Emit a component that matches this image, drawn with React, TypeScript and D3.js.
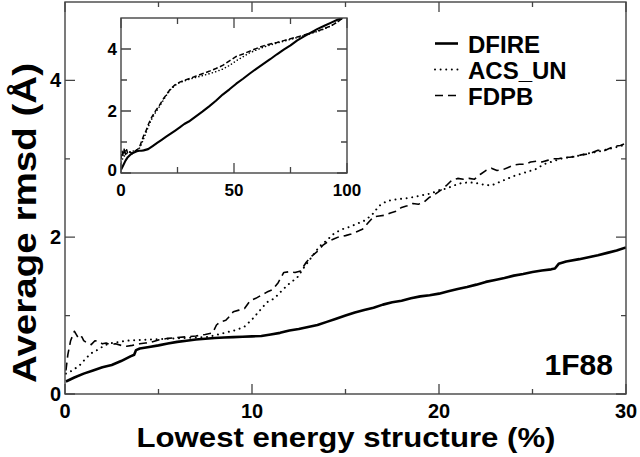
import React from "react";
import * as d3 from "d3";

// ---------- Main plot data ----------
const dfireX = [0.05,0.5,1,1.5,2,2.5,3,3.5,3.7,3.8,4,4.5,5,5.5,6,6.5,7,7.5,8,8.5,9,9.5,10,10.5,11,11.5,12,12.5,13,13.5,14,14.5,15,15.5,16,16.5,17,17.5,18,18.5,19,19.5,20,20.5,21,21.5,22,22.5,23,23.5,24,24.5,25,25.5,26,26.2,26.4,26.8,27.5,28,28.5,29,29.5,30];
const dfireY = [0.16,0.21,0.26,0.30,0.34,0.37,0.42,0.48,0.50,0.56,0.58,0.60,0.62,0.645,0.665,0.68,0.695,0.705,0.715,0.72,0.725,0.73,0.735,0.74,0.76,0.78,0.81,0.83,0.855,0.88,0.92,0.96,1.0,1.04,1.07,1.1,1.14,1.17,1.19,1.22,1.245,1.26,1.28,1.31,1.34,1.365,1.395,1.43,1.455,1.48,1.51,1.53,1.555,1.575,1.59,1.60,1.66,1.69,1.72,1.745,1.77,1.80,1.83,1.87];

const acsX = [0.05,0.4,0.8,1.1,1.4,1.8,2.1,2.4,2.8,3.3,4.0,5.0,6.0,7.0,7.7,8.2,8.7,9.2,9.6,10.0,10.4,10.8,11.2,11.6,12.0,12.4,12.8,13.2,13.6,14.0,14.4,14.8,15.2,15.6,16.0,16.4,16.8,17.2,17.6,18.0,18.4,18.8,19.2,19.6,20.0,20.4,20.8,21.2,21.6,22.0,22.4,22.8,23.2,23.6,24.0,24.4,24.8,25.2,25.6,26.0,26.5,27.0,27.5,28.0,28.5,29.0,29.5,30.0];
const acsY = [0.26,0.30,0.37,0.45,0.52,0.57,0.62,0.645,0.66,0.68,0.69,0.70,0.71,0.72,0.73,0.76,0.79,0.82,0.86,0.95,1.06,1.17,1.22,1.32,1.41,1.48,1.62,1.75,1.88,1.96,2.05,2.10,2.13,2.17,2.21,2.28,2.40,2.46,2.48,2.49,2.50,2.52,2.54,2.56,2.60,2.62,2.66,2.69,2.70,2.69,2.67,2.66,2.70,2.74,2.78,2.81,2.84,2.87,2.93,2.96,3.00,3.02,3.04,3.07,3.09,3.12,3.15,3.18];

const fdpbX = [0.05,0.15,0.3,0.5,0.6,0.7,0.8,0.9,1.0,1.2,1.4,1.6,1.8,2.0,2.2,2.4,2.7,3.0,3.3,3.6,4.0,4.3,4.6,5.0,5.5,6.0,6.5,7.0,7.5,7.9,8.1,8.3,8.6,8.8,9.0,9.3,9.6,9.9,10.2,10.5,10.8,11.1,11.4,11.7,12.0,12.3,12.6,12.9,13.2,13.5,13.8,14.1,14.4,14.7,15.0,15.3,15.6,15.9,16.2,16.5,16.8,17.1,17.4,17.7,18.0,18.3,18.6,18.9,19.2,19.5,19.8,20.1,20.4,20.7,21.0,21.3,21.6,21.9,22.2,22.5,22.8,23.1,23.4,23.7,24.0,24.3,24.6,24.9,25.2,25.5,25.8,26.1,26.4,26.7,27.0,27.3,27.6,27.9,28.2,28.5,28.8,29.1,29.4,29.7,30.0];
const fdpbY = [0.30,0.50,0.68,0.80,0.76,0.72,0.70,0.73,0.68,0.65,0.63,0.68,0.67,0.64,0.65,0.63,0.64,0.62,0.61,0.62,0.64,0.65,0.66,0.69,0.71,0.72,0.73,0.74,0.76,0.78,0.88,0.92,0.94,0.99,1.05,1.07,1.09,1.19,1.22,1.26,1.30,1.33,1.42,1.55,1.56,1.55,1.57,1.68,1.76,1.82,1.90,1.95,1.98,2.01,2.02,2.04,2.07,2.10,2.18,2.26,2.27,2.28,2.31,2.33,2.38,2.40,2.43,2.42,2.45,2.51,2.55,2.60,2.66,2.73,2.75,2.74,2.75,2.74,2.80,2.85,2.88,2.85,2.86,2.89,2.92,2.93,2.93,2.96,2.97,2.96,2.98,3.00,3.00,3.02,3.02,3.03,3.05,3.06,3.08,3.11,3.10,3.13,3.16,3.17,3.20];

// ---------- Inset data ----------
const inDfireX = [0,1,2,3,4,5,6,7,8,9,10,12,14,16,18,20,22,24,26,28,30,33,36,39,42,45,48,51,54,57,60,63,66,69,72,75,78,81,84,87,90,93,96,98];
const inDfireY = [0.1,0.25,0.40,0.51,0.58,0.64,0.67,0.70,0.72,0.72,0.73,0.77,0.87,0.97,1.07,1.17,1.27,1.37,1.47,1.58,1.66,1.82,1.98,2.15,2.33,2.53,2.70,2.88,3.04,3.21,3.37,3.52,3.67,3.83,3.98,4.12,4.28,4.41,4.53,4.65,4.75,4.85,4.95,5.0];

const inFdpbX = [0,0.5,1,1.5,2,2.5,3,4,5,6,7,8,9,10,11,12,13,14,15,16,17,18,19,20,21,22,24,26,28,30,33,36,39,42,45,48,51,54,57,60,63,66,69,72,75,78,81,84,87,90,93,96,98];
const inFdpbY = [0.45,0.7,0.55,0.8,0.6,0.75,0.62,0.68,0.62,0.70,0.75,0.80,1.0,1.2,1.35,1.55,1.72,1.85,1.97,2.08,2.18,2.30,2.42,2.52,2.62,2.72,2.85,2.93,2.99,3.04,3.12,3.20,3.28,3.37,3.47,3.62,3.76,3.84,3.93,4.02,4.10,4.16,4.21,4.27,4.33,4.39,4.45,4.52,4.58,4.66,4.75,4.88,5.0];

const inAcsX = [0,1,2,3,4,5,6,7,8,9,10,11,12,13,14,15,16,17,18,19,20,21,22,24,26,28,30,33,36,39,42,45,48,51,54,57,60,63,66,69,72,75,78,81,84,87,90,93,96,98];
const inAcsY = [0.35,0.5,0.6,0.65,0.68,0.70,0.72,0.74,0.78,0.92,1.10,1.28,1.48,1.65,1.80,1.92,2.03,2.14,2.26,2.38,2.50,2.60,2.70,2.83,2.92,2.97,3.02,3.08,3.14,3.20,3.27,3.35,3.47,3.62,3.75,3.88,3.97,4.06,4.13,4.19,4.25,4.31,4.37,4.43,4.50,4.57,4.65,4.75,4.88,5.0];

// ---------- ticks / labels ----------
const mainXTicks = [0, 10, 20, 30];
const mainXMinor = [5, 15, 25];
const mainYTicks = [0, 2, 4];
const mainYMinor = [1, 3];
const inXTicks = [0, 50, 100];
const inXMinor = [25, 75];
const inYTicks = [0, 2, 4];
const inYMinor = [1, 3];

const legendNames = ["DFIRE", "ACS_UN", "FDPB"];

const FONT = "'Liberation Sans', Arial, Helvetica, sans-serif";

type Style = { w: number; dash?: string; cap?: string };
const mainStyles: Style[] = [
  { w: 2.6 },
  { w: 2, dash: "0.01 5.6", cap: "round" },
  { w: 1.6, dash: "8 5" },
];
const inStyles: Style[] = [
  { w: 2.1 },
  { w: 1.6, dash: "0.01 3.5", cap: "round" },
  { w: 1.5, dash: "5 2.5" },
];

function zip(xs: number[], ys: number[]): [number, number][] {
  return xs.map((x, i) => [x, ys[i]]);
}

function Frame({
  x, y, xt, xm, yt, ym, major, minor,
}: {
  x: d3.ScaleLinear<number, number>;
  y: d3.ScaleLinear<number, number>;
  xt: number[]; xm: number[]; yt: number[]; ym: number[];
  major: number; minor: number;
}) {
  const [x0, x1] = x.range();
  const [y0, y1] = y.range();
  const segs: string[] = [];
  xt.forEach((v) => {
    const p = x(v);
    segs.push(`M${p},${y0}V${y0 - major}`, `M${p},${y1}V${y1 + major}`);
  });
  xm.forEach((v) => {
    const p = x(v);
    segs.push(`M${p},${y0}V${y0 - minor}`, `M${p},${y1}V${y1 + minor}`);
  });
  yt.forEach((v) => {
    const p = y(v);
    segs.push(`M${x0},${p}H${x0 + major}`, `M${x1},${p}H${x1 - major}`);
  });
  ym.forEach((v) => {
    const p = y(v);
    segs.push(`M${x0},${p}H${x0 + minor}`, `M${x1},${p}H${x1 - minor}`);
  });
  return (
    <g>
      <path d={segs.join("")} stroke="#444" strokeWidth={1.3} fill="none" />
      <rect x={x0} y={y1} width={x1 - x0} height={y0 - y1} fill="none" stroke="#444" strokeWidth={1.4} />
    </g>
  );
}

export default function App() {
  const W = 640, H = 457;
  const x = d3.scaleLinear().domain([0, 30]).range([65, 626]);
  const y = d3.scaleLinear().domain([0, 5]).range([394, 2]);
  const ix = d3.scaleLinear().domain([0, 100]).range([121, 347]);
  const iy = d3.scaleLinear().domain([0, 5]).range([173, 18]);

  const mainLine = d3.line<[number, number]>().x((d) => x(d[0])).y((d) => y(d[1]));
  const inLine = d3.line<[number, number]>().x((d) => ix(d[0])).y((d) => iy(d[1]));

  const mainSeries = [zip(dfireX, dfireY), zip(acsX, acsY), zip(fdpbX, fdpbY)];
  const inSeries = [zip(inDfireX, inDfireY), zip(inAcsX, inAcsY), zip(inFdpbX, inFdpbY)];

  return (
    <svg width={W} height={H} style={{ display: "block", position: "absolute", left: 0, top: 0 }} fontFamily={FONT}>
      <rect width={W} height={H} fill="#fff" />
      <defs>
        <clipPath id="mainClip"><rect x={65} y={2} width={561} height={392} /></clipPath>
        <clipPath id="inClip"><rect x={121} y={18} width={226} height={155} /></clipPath>
      </defs>

      {/* main series */}
      <g clipPath="url(#mainClip)">
        {mainSeries.map((s, i) => (
          <path key={i} d={mainLine(s) || ""} fill="none" stroke="#000"
            strokeWidth={mainStyles[i].w} strokeDasharray={mainStyles[i].dash}
            strokeLinecap={(mainStyles[i].cap as any) || "butt"} strokeLinejoin="round" />
        ))}
      </g>
      <Frame x={x} y={y} xt={mainXTicks} xm={mainXMinor} yt={mainYTicks} ym={mainYMinor} major={10} minor={5} />

      {/* main tick labels */}
      {mainXTicks.map((v) => (
        <text key={"mx" + v} x={x(v)} y={418} textAnchor="middle" fontSize={20} fontWeight="bold">{v}</text>
      ))}
      {mainYTicks.map((v) => (
        <text key={"my" + v} x={61} y={y(v) + 7} textAnchor="end" fontSize={20} fontWeight="bold">{v}</text>
      ))}

      {/* axis titles */}
      <text x={346} y={447} textAnchor="middle" fontSize={28} fontWeight="bold"
        textLength={419} lengthAdjust="spacingAndGlyphs">Lowest energy structure (%)</text>
      <text transform="translate(36,223) rotate(-90)" textAnchor="middle" fontSize={33} fontWeight="bold"
        textLength={320} lengthAdjust="spacingAndGlyphs">Average rmsd (Å)</text>

      {/* legend */}
      {legendNames.map((n, i) => {
        const ly = 43.5 + i * 26;
        return (
          <g key={n}>
            <line x1={435} x2={458} y1={ly} y2={ly} stroke="#000" strokeWidth={mainStyles[i].w}
              strokeDasharray={mainStyles[i].dash} strokeLinecap={(mainStyles[i].cap as any) || "butt"} />
            <text x={468} y={ly + 9} fontSize={24} fontWeight="bold">{n}</text>
          </g>
        );
      })}

      <text x={613} y={375} textAnchor="end" fontSize={30} fontWeight="bold">1F88</text>

      {/* inset */}
      <rect x={121} y={18} width={226} height={155} fill="#fff" />
      <g clipPath="url(#inClip)">
        {inSeries.map((s, i) => (
          <path key={i} d={inLine(s) || ""} fill="none" stroke="#000"
            strokeWidth={inStyles[i].w} strokeDasharray={inStyles[i].dash}
            strokeLinecap={(inStyles[i].cap as any) || "butt"} strokeLinejoin="round" />
        ))}
      </g>
      <Frame x={ix} y={iy} xt={inXTicks} xm={inXMinor} yt={inYTicks} ym={inYMinor} major={10} minor={6} />
      {inXTicks.map((v) => (
        <text key={"ix" + v} x={ix(v)} y={196} textAnchor="middle" fontSize={17} fontWeight="bold">{v}</text>
      ))}
      {inYTicks.map((v) => (
        <text key={"iy" + v} x={117} y={Math.min(iy(v) + 6, 176)} textAnchor="end" fontSize={17} fontWeight="bold">{v}</text>
      ))}
    </svg>
  );
}
